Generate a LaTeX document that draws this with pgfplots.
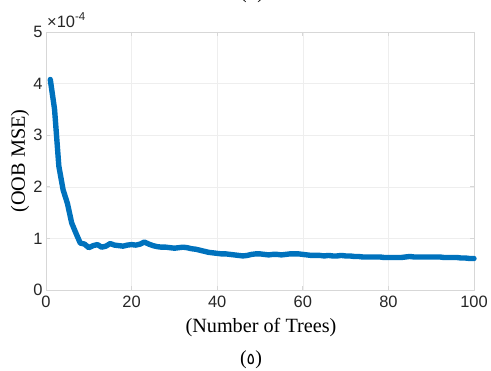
\documentclass[border=0pt]{standalone}
\usepackage{fontspec}
\setmainfont{Liberation Serif}
\newfontfamily\sansf{Liberation Sans}
\newfontfamily\arabicfont[Script=Arabic]{DejaVu Sans}
\usepackage{pgfplots}
\pgfplotsset{compat=1.18}
\definecolor{mblue}{RGB}{0,114,189}
\definecolor{tickgray}{RGB}{38,38,38}
\definecolor{axgray}{RGB}{215,215,215}
\definecolor{grgray}{RGB}{238,238,238}
\begin{document}
\begin{tikzpicture}[x=1bp,y=1bp]
\useasboundingbox (0,0) rectangle (491,370);
\begin{axis}[
  at={(46bp,80bp)}, anchor=south west,
  scale only axis, width=428bp, height=258bp,
  xmin=0, xmax=100, ymin=0, ymax=5,
  xtick={0,20,40,60,80,100}, ytick={0,1,2,3,4,5},
  grid=major, major grid style={color=grgray, line width=0.6pt},
  axis line style={color=axgray, line width=0.9pt},
  tick style={color=axgray, line width=0.9pt},
  tick align=inside, major tick length=4bp,
  /pgf/number format/assume math mode=true,
  ticklabel style={font=\sansf\fontsize{16.5}{18}\selectfont, text=tickgray},
  xticklabel style={yshift=-2bp},
  clip=false,
]
\addplot[mblue, line width=5.4pt, line join=round, line cap=round] coordinates {
(1,4.08) (2,3.50) (3,2.40) (4,1.94) (5,1.68) (6,1.30) (7,1.10) (8,0.91) (9,0.89) (10,0.82)
(11,0.86) (12,0.88) (13,0.83) (14,0.85) (15,0.90) (16,0.87) (17,0.86) (18,0.85) (19,0.87) (20,0.88)
(21,0.87) (22,0.89) (23,0.93) (24,0.89) (25,0.86) (26,0.84) (27,0.83) (28,0.83) (29,0.82) (30,0.81)
(31,0.82) (32,0.83) (33,0.82) (34,0.80) (35,0.79) (36,0.77) (37,0.75) (38,0.73) (39,0.72) (40,0.71)
(41,0.70) (42,0.70) (43,0.69) (44,0.68) (45,0.67) (46,0.66) (47,0.67) (48,0.69) (49,0.70) (50,0.70)
(51,0.69) (52,0.68) (53,0.69) (54,0.69) (55,0.68) (56,0.69) (57,0.70) (58,0.70) (59,0.70) (60,0.69)
(61,0.68) (62,0.67) (63,0.67) (64,0.67) (65,0.66) (66,0.67) (67,0.66) (68,0.66) (69,0.67) (70,0.66)
(71,0.66) (72,0.65) (73,0.65) (74,0.64) (75,0.64) (76,0.64) (77,0.64) (78,0.64) (79,0.63) (80,0.63)
(81,0.63) (82,0.63) (83,0.63) (84,0.64) (85,0.65) (86,0.64) (87,0.64) (88,0.64) (89,0.64) (90,0.64)
(91,0.64) (92,0.64) (93,0.63) (94,0.63) (95,0.63) (96,0.63) (97,0.62) (98,0.62) (99,0.61) (100,0.61)
};
\end{axis}
\node[anchor=base west, inner sep=0pt, text=tickgray, font=\sansf\fontsize{16.5}{18}\selectfont] at (47,343) {×10\textsuperscript{-4}};
\node[font=\fontsize{20.3}{22}\selectfont] at (261,42) {(Number of Trees)};
\node[font=\fontsize{20.3}{22}\selectfont, rotate=90] at (20,209) {(OOB MSE)};
\node[font=\fontsize{20}{22}\selectfont] at (251,10) {({\arabicfont\fontsize{16}{18}\selectfont ٥})};
\node[font=\fontsize{20}{22}\selectfont, anchor=base] at (252,371) {({\arabicfont ٤})};
\end{tikzpicture}
\end{document}
